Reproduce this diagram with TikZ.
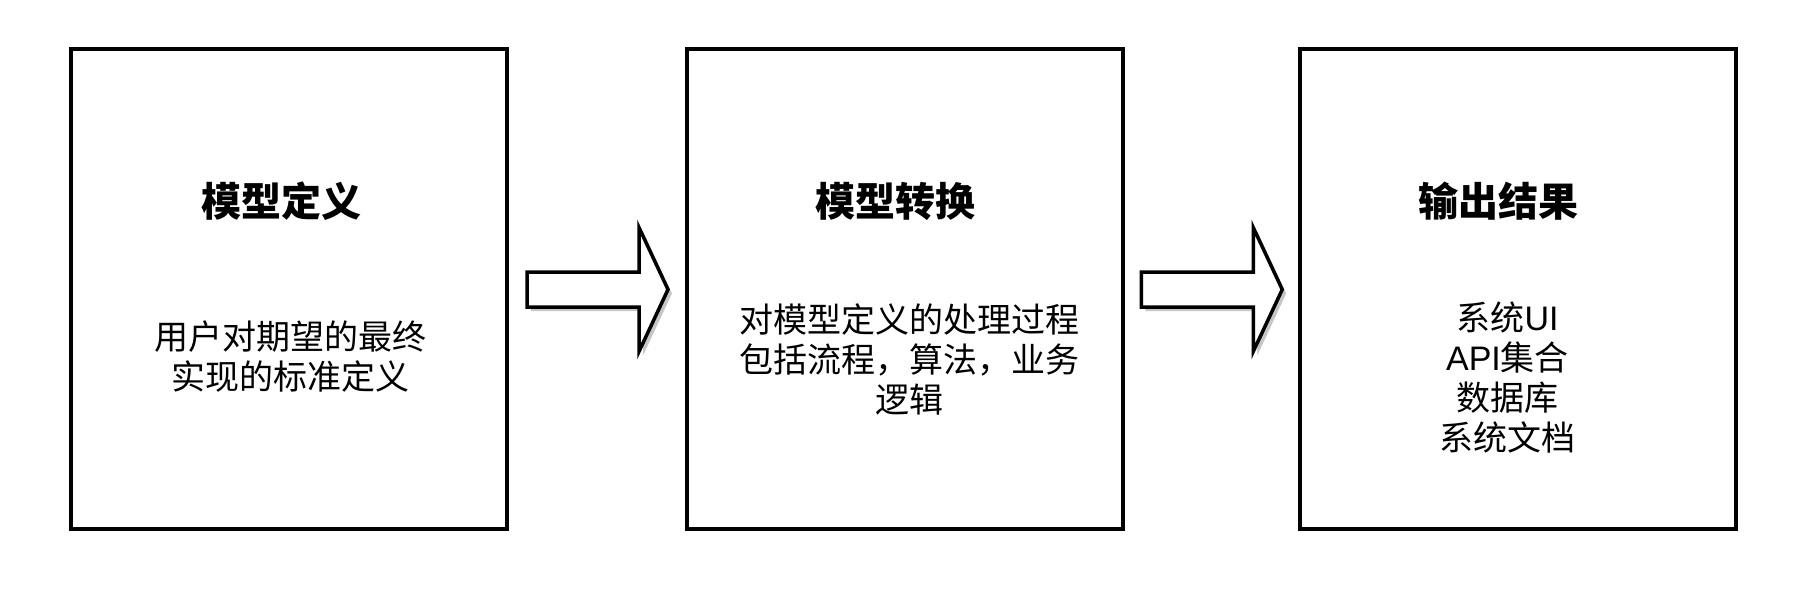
\documentclass[tikz,border=0pt]{standalone}
\usepackage{fontspec}
\setmainfont{Noto Sans CJK SC}
\newfontfamily\latinfont{Liberation Sans}
\usetikzlibrary{calc}
\usetikzlibrary{positioning}
\tikzset{
  stagebox/.style = {draw, line width=2pt, fill=white,
                     minimum width=218pt, minimum height=240pt},
  stagetitle/.style = {font=\bfseries\fontsize{20}{24}\selectfont},
  stagetext/.style = {align=center, font=\fontsize{17}{20}\selectfont},
  fatarrow/.pic = {
    \fill[gray!45] (4,-13.5) -- (116,-13.5) -- (116,-58) -- (145,4)
        -- (116,66) -- (116,21.5) -- (4,21.5) -- cycle;
    \draw[line width=1.75pt, fill=white, line join=miter] (0,-17.5)
        -- (112,-17.5) -- (112,-62) -- (141,0) -- (112,62)
        -- (112,17.5) -- (0,17.5) -- cycle;
  }
}

\begin{document}
\begin{tikzpicture}[x=0.5pt, y=-0.5pt]

    \useasboundingbox (0,0) rectangle (1804,590); % whole canvas

    \node[stagebox] (define)  at (289,289)    {};
    \node[stagebox] (convert) at (905,289)    {};
    \node[stagebox] (output)  at (1517.5,289) {};

    % titles sit in the upper part of each box
    \node[stagetitle] (defineT)  at ($(define)+(-8,-88)$)  {模型定义};
    \node[stagetitle] (convertT) at ($(convert)+(-10,-88)$) {模型转换};
    \node[stagetitle] (outputT)  at ($(output)+(-19,-88)$)  {输出结果};

    \node[stagetext] (defineB)  at ($(define)+(1,68)$)
        {用户对期望的最终\\实现的标准定义};
    \node[stagetext] (convertB) at ($(convert)+(4,70)$)
        {对模型定义的处理过程\\包括流程，算法，业务\\逻辑};
    \node[stagetext] (outputB)  at ($(output)+(-10,88)$)
        {系统{\latinfont UI}\\{\latinfont API}集合\\数据库\\系统文档};

    % block arrows between the boxes
    \pic at ($(define.east)!0.5!(convert.west)+(-70,0.5)$) {fatarrow};
    \pic at ($(convert.east)!0.5!(output.west)+(-70,0.5)$) {fatarrow};

\end{tikzpicture}
\end{document}
